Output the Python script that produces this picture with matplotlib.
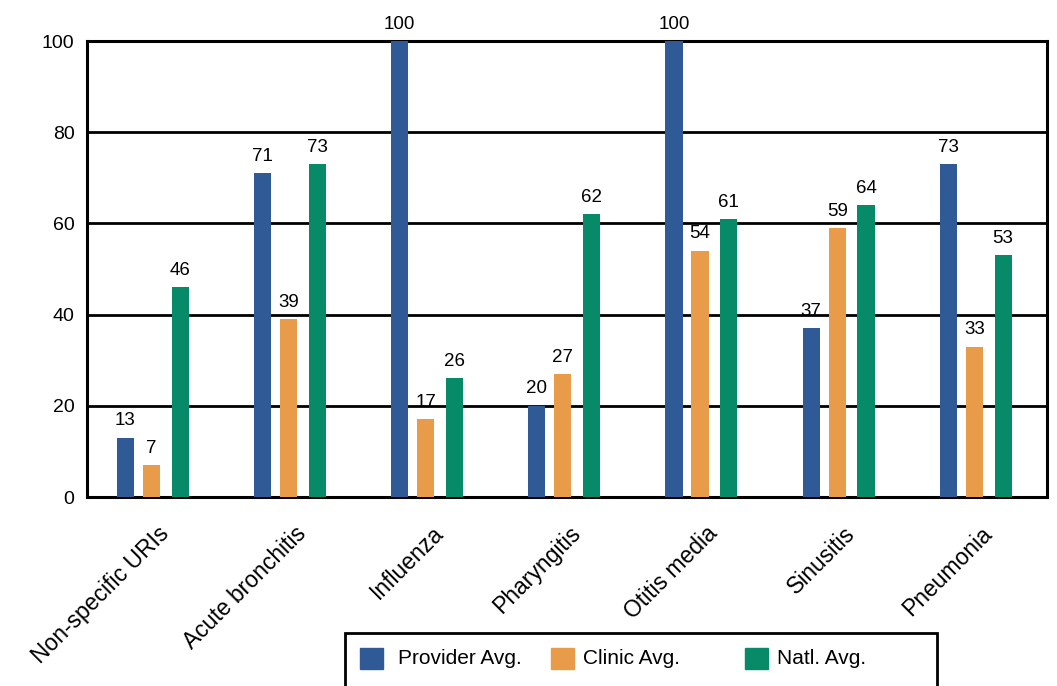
import matplotlib
matplotlib.use("Agg")
import matplotlib.pyplot as plt
import numpy as np
from matplotlib.patches import Rectangle
from matplotlib.transforms import ScaledTranslation

# Chart data
categories = ["Non-specific URIs", "Acute bronchitis", "Influenza", "Pharyngitis",
              "Otitis media", "Sinusitis", "Pneumonia"]
provider_avg = [13, 71, 100, 20, 100, 37, 73]
clinic_avg = [7, 39, 17, 27, 54, 59, 33]
natl_avg = [46, 73, 26, 62, 61, 64, 53]
series_names = ["Provider Avg.", "Clinic Avg.", "Natl. Avg."]
y_ticks = [0, 20, 40, 60, 80, 100]

colors = ["#2f5a96", "#e89c4a", "#078a68"]

plt.rcParams['font.family'] = ['Liberation Sans', 'DejaVu Sans']

W, H = 1057, 686
fig = plt.figure(figsize=(W / 100, H / 100), dpi=100)
ax = fig.add_axes([87 / W, 1 - 497 / H, 960 / W, 456 / H])

x = np.arange(len(categories))
bar_w = 0.125
offsets = [-0.22, -0.03, 0.18]
for vals, off, col in zip([provider_avg, clinic_avg, natl_avg], offsets, colors):
    bars = ax.bar(x + off, vals, width=bar_w, color=col, zorder=3)
    for b, v in zip(bars, vals):
        ax.annotate(str(v), (b.get_x() + b.get_width() / 2, v),
                    xytext=(0, 6), textcoords="offset points",
                    ha="center", va="bottom", fontsize=13.5, clip_on=False)

ax.set_xlim(-0.5, len(categories) - 0.5)
ax.set_ylim(0, 100)
ax.set_yticks(y_ticks)
ax.set_yticklabels([str(t) for t in y_ticks], fontsize=14)
ax.tick_params(axis="y", length=0, pad=9)

# horizontal grid lines
for t in y_ticks[1:-1]:
    ax.axhline(t, color="black", lw=2.0, zorder=2)
for s in ax.spines.values():
    s.set_linewidth(2.2)
    s.set_color("black")

ax.set_xticks(x)
ax.set_xticklabels(categories, fontsize=16.5, rotation=45, ha="right",
                   va="center", rotation_mode="anchor")
ax.tick_params(axis="x", length=0, pad=0)
shift = ScaledTranslation(10 / 100, -33 / 100, fig.dpi_scale_trans)
for lab in ax.get_xticklabels():
    lab.set_transform(lab.get_transform() + shift)

# legend, drawn by hand; its box runs off the bottom of the picture
key_x = [360, 551, 745]
text_x = [398, 583, 777]
for kx, tx, name, col in zip(key_x, text_x, series_names, colors):
    fig.patches.append(Rectangle((kx / W, 1 - 669 / H), 23 / W, 21 / H,
                                 transform=fig.transFigure, color=col))
    fig.text(tx / W, 1 - 659 / H, name, fontsize=15, ha="left", va="center")
fig.patches.append(Rectangle((345 / W, -0.05), (937 - 345) / W, 0.05 + 1 - 633 / H,
                             transform=fig.transFigure, fill=False,
                             edgecolor="black", lw=2.0, clip_on=False))

fig.savefig("out.png", dpi=100)
